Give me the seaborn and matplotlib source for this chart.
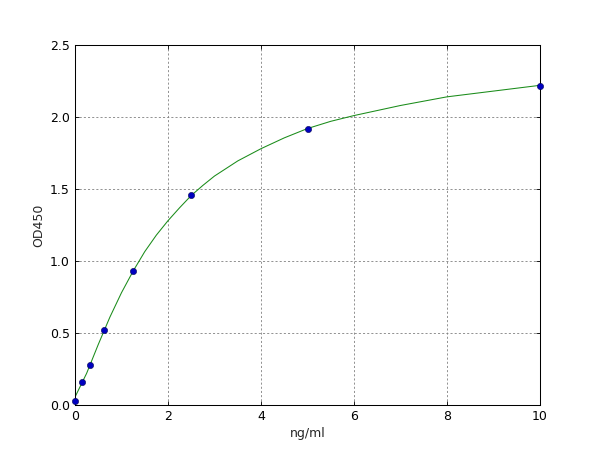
import matplotlib
matplotlib.use("Agg")
import matplotlib.pyplot as plt
import seaborn as sns
import pandas as pd

# Standard points (ng/ml vs OD450)
conc = [0, 0.156, 0.3125, 0.625, 1.25, 2.5, 5, 10]
od = [0.028, 0.16, 0.277, 0.52, 0.93, 1.455, 1.92, 2.215]

# Fitted curve
curve_x = [0, 0.25, 0.5, 0.75, 1, 1.25, 1.5, 1.75, 2, 2.25, 2.5, 2.75, 3, 3.5, 4, 4.5,
           5, 5.5, 6, 6.5, 7, 7.5, 8, 8.5, 9, 9.5, 10]
curve_y = [0.055, 0.22, 0.42, 0.61, 0.78, 0.93, 1.065, 1.18, 1.28, 1.37, 1.455, 1.525,
           1.59, 1.695, 1.78, 1.855, 1.92, 1.97, 2.01, 2.045, 2.08, 2.11, 2.14, 2.16,
           2.18, 2.20, 2.22]

x_ticks = [0, 2, 4, 6, 8, 10]
y_ticks = [0.0, 0.5, 1.0, 1.5, 2.0, 2.5]

sns.set_theme(style="white")
plt.rcParams['font.family'] = ['DejaVu Sans']

fig = plt.figure(figsize=(8, 6), dpi=75)
ax = fig.add_axes([0.125, 0.1, 0.775, 0.8])

pts = pd.DataFrame({"conc": conc, "od": od})
crv = pd.DataFrame({"x": curve_x, "y": curve_y})

sns.lineplot(data=crv, x="x", y="y", ax=ax, color=(0.1, 0.55, 0.1), linewidth=1.0, zorder=2)
sns.scatterplot(data=pts, x="conc", y="od", ax=ax, color=(0, 0, 0.75), edgecolor=(0, 0, 0.3),
                s=36, linewidth=0.5, zorder=3, clip_on=False)

ax.set_xlim(0, 10)
ax.set_ylim(0, 2.5)
ax.set_xticks(x_ticks)
ax.set_yticks(y_ticks)
ax.set_xticklabels([str(t) for t in x_ticks], fontsize=12)
ax.set_yticklabels([f"{t:.1f}" for t in y_ticks], fontsize=12)
ax.set_xlabel("ng/ml", fontsize=12)
ax.set_ylabel("OD450", fontsize=12)
ax.grid(True, color='#808080', linestyle=(0, (2.5, 2.5)), linewidth=0.8)
ax.tick_params(axis='both', which='both', direction='in', length=4, width=0.8,
               top=True, right=True, bottom=True, left=True, colors='black', pad=5)
for s in ax.spines.values():
    s.set_color('black')
    s.set_linewidth(1.0)

fig.savefig("out.png", dpi=75, facecolor='white')
